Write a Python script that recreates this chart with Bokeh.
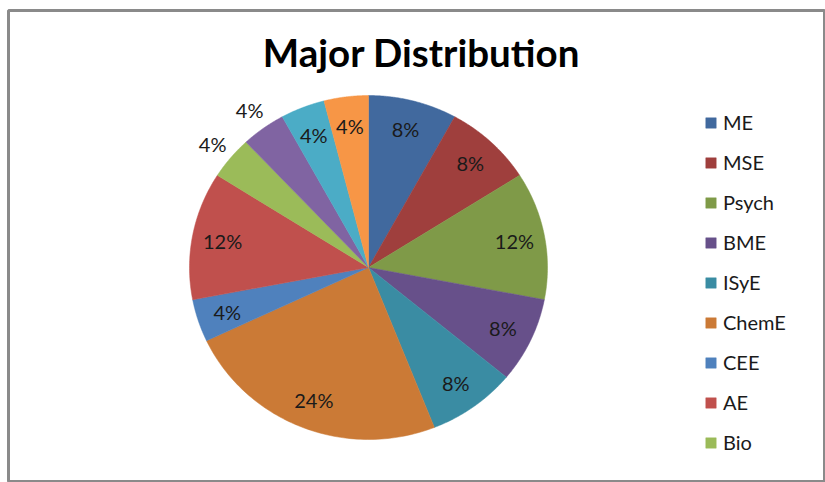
import numpy as np
from bokeh.plotting import figure
from bokeh.models import ColumnDataSource, Legend, LegendItem, Range1d
from bokeh.core.properties import value
from bokeh.embed import file_html
from bokeh.resources import INLINE

# ---- data ----
title_text = "Major Distribution"
categories = ["ME", "MSE", "Psych", "BME", "ISyE", "ChemE", "CEE", "AE", "Bio"]  # legend (rest cut off)
shares = [8, 8, 12, 8, 8, 24, 4, 12, 4, 4, 4, 4]  # percent, clockwise from top
colors = ["#41699E", "#9F3F3D", "#7F9A48", "#67508A", "#3A8CA3", "#CB7A36",
          "#4F81BD", "#C0504D", "#9BBB59", "#8064A2", "#4BACC6", "#F79646"]
outside_labels = {8, 9}  # slices whose labels sit outside the pie

# ---- layout ----
W, H = 825, 482
left, top = 8, 10
cx, cy = 368, 267     # pie centre (px)
rx, ry = 179, 172     # pie radii (px)

p = figure(width=W, height=H, output_backend="svg", toolbar_location=None,
           x_axis_type=None, y_axis_type=None,
           min_border_left=left, min_border_top=top, min_border_right=0, min_border_bottom=0,
           x_range=Range1d(-(cx - left) / rx, (W - cx) / rx),
           y_range=Range1d(-(H - cy) / ry, (cy - top) / ry))
p.grid.visible = False
p.outline_line_color = "#8a8a8a"
p.outline_line_width = 3
p.background_fill_color = "white"
p.border_fill_color = "white"

# ---- slices (unit ellipse in data space) ----
vals = np.array(shares, dtype=float)
frac = vals / vals.sum()
ends = np.cumsum(frac) * 2 * np.pi
starts = ends - frac * 2 * np.pi
xs, ys = [], []
for a0, a1 in zip(starts, ends):
    t = np.linspace(a0, a1, 80)
    xs.append([0.0] + list(np.sin(t)))
    ys.append([0.0] + list(np.cos(t)))
src = ColumnDataSource(dict(xs=xs, ys=ys, color=colors))
r = p.patches("xs", "ys", source=src, fill_color="color", line_color="color", line_width=0.5)

# ---- percentage labels ----
mids = (starts + ends) / 2
rad = np.array([1.13 if i in outside_labels else 0.83 for i in range(len(shares))])
lab = ColumnDataSource(dict(x=rad * np.sin(mids), y=rad * np.cos(mids),
                            t=[f"{s}%" for s in shares]))
p.text("x", "y", text="t", source=lab, text_font=value("Lato"), text_font_size="20px",
       text_color="#1a1a1a", text_align="center", text_baseline="middle")

# ---- title ----
p.text(x=[(421 - cx) / rx], y=[(cy - 51) / ry], text=[title_text], text_font=value("Lato"),
       text_font_size="38.5px", text_font_style="bold", text_color="#000000",
       text_align="center", text_baseline="middle")

# ---- legend ----
legend = Legend(items=[LegendItem(label=categories[i], renderers=[r], index=i)
                       for i in range(len(categories))],
                location=(696, 28), orientation="vertical",
                border_line_color=None, background_fill_alpha=0,
                padding=0, margin=0, spacing=16,
                glyph_width=13, glyph_height=13, label_height=20, label_standoff=6,
                label_text_font="Lato", label_text_font_size="20px",
                label_text_color="#1a1a1a")
p.add_layout(legend)

open("out.html", "w").write(file_html(p, INLINE))
